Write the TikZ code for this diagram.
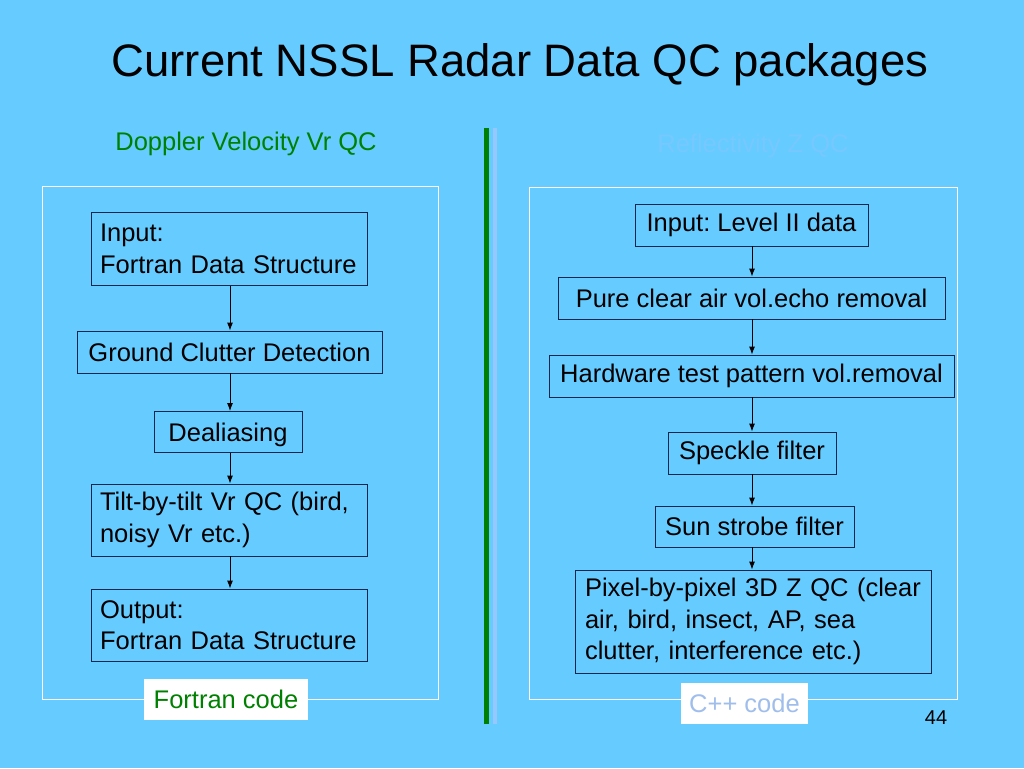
\documentclass[tikz,border=0pt]{standalone}
\usepackage{fontspec}
\setmainfont{Liberation Sans}
\usetikzlibrary{arrows.meta}
\frenchspacing
\definecolor{slidebg}{RGB}{102,204,255}
\definecolor{boxline}{RGB}{10,40,75}
\definecolor{vrgreen}{RGB}{0,128,0}
\definecolor{zfaint}{RGB}{118,200,255}
\definecolor{cppgrey}{RGB}{160,190,235}
\definecolor{divblue}{RGB}{150,200,255}
\begin{document}
\begin{tikzpicture}[x=1pt, y=-1pt,
  every node/.style = {font=\fontsize{25.5}{31.5}\selectfont, inner sep=0pt},
  qcbox/.style = {draw=boxline, line width=0.9pt},
  qcmulti/.style = {qcbox, align=left, inner xsep=9pt},
  codebox/.style = {fill=white, minimum height=41pt},
  flow/.style = {draw=black, line width=0.9pt, -{Latex[length=8pt,width=6pt]}}]
  % background and frames
  \fill[slidebg] (0,0) rectangle (1024,768);
  \draw[white, line width=0.9pt] (42,186) rectangle (438,699);
  \draw[white, line width=0.9pt] (529,187) rectangle (957,699);
  \fill[vrgreen] (484,128) rectangle (489,724);
  \fill[divblue] (493,128) rectangle (497,724);
  % titles
  \node (title) at (520,65) {\fontsize{45.5}{50}\selectfont Current NSSL Radar Data QC packages};
  \node[text=vrgreen] (vrhead) at (246,144) {Doppler Velocity Vr QC};
  \node[text=zfaint] (zhead) at (753,146) {Reflectivity Z QC};
  % Vr QC chain
  \node[qcmulti, text width=258pt, minimum height=73pt] (vrin) at (229,249)
    {Input:\\Fortran Data Structure};
  \node[qcbox, minimum width=305pt, minimum height=42pt] (clutter) at (229.5,352)
    {Ground Clutter Detection};
  \node[qcbox, minimum width=148pt, minimum height=41pt, text height=21pt, text depth=3pt] (dealias) at (228,432)
    {Dealiasing};
  \node[qcmulti, text width=258pt, minimum height=72pt] (tilt) at (229,520)
    {Tilt-by-tilt Vr QC (bird,\\noisy Vr etc.)};
  \node[qcmulti, text width=258pt, minimum height=72pt] (vrout) at (229,625)
    {Output:\\Fortran Data Structure};
  \draw[flow] (vrin.south -| 230,0) -- (clutter.north -| 230,0);
  \draw[flow] (clutter.south -| 230,0) -- (dealias.north -| 230,0);
  \draw[flow] (dealias.south -| 230,0) -- (tilt.north -| 230,0);
  \draw[flow] (tilt.south -| 230,0) -- (vrout.north -| 230,0);
  \node[codebox, text=vrgreen, minimum width=164pt] (fortran) at (226,699.5) {Fortran code};
  % Z QC chain
  \node[qcbox, minimum width=233pt, minimum height=42pt] (zin) at (751.5,225)
    {Input: Level II data};
  \node[qcbox, minimum width=387pt, minimum height=42pt] (clearair) at (751.5,298)
    {Pure clear air vol.echo removal};
  \node[qcbox, minimum width=405pt, minimum height=42pt] (hwtest) at (751.5,376)
    {Hardware test pattern vol.removal};
  \node[qcbox, minimum width=168pt, minimum height=42pt] (speckle) at (752,453)
    {Speckle filter};
  \node[qcbox, minimum width=199pt, minimum height=41pt] (sunstrobe) at (754.5,526.5)
    {Sun strobe filter};
  \node[qcmulti, text width=336pt, inner xsep=10pt, minimum height=103pt] (pixel) at (753,621.5)
    {Pixel-by-pixel 3D Z QC (clear\\air, bird, insect, AP, sea\\clutter, interference etc.)};
  \draw[flow] (zin.south -| 752,0) -- (clearair.north -| 752,0);
  \draw[flow] (clearair.south -| 752,0) -- (hwtest.north -| 752,0);
  \draw[flow] (hwtest.south -| 752,0) -- (speckle.north -| 752,0);
  \draw[flow] (speckle.south -| 752,0) -- (sunstrobe.north -| 752,0);
  \draw[flow] (sunstrobe.south -| 752,0) -- (pixel.north -| 752,0);
  \node[codebox, text=cppgrey, minimum width=127pt] (cpp) at (744.5,703.5) {C++ code};
  % page number
  \node[font=\fontsize{20}{22}\selectfont] (pagenum) at (936,718) {44};
\end{tikzpicture}
\end{document}
